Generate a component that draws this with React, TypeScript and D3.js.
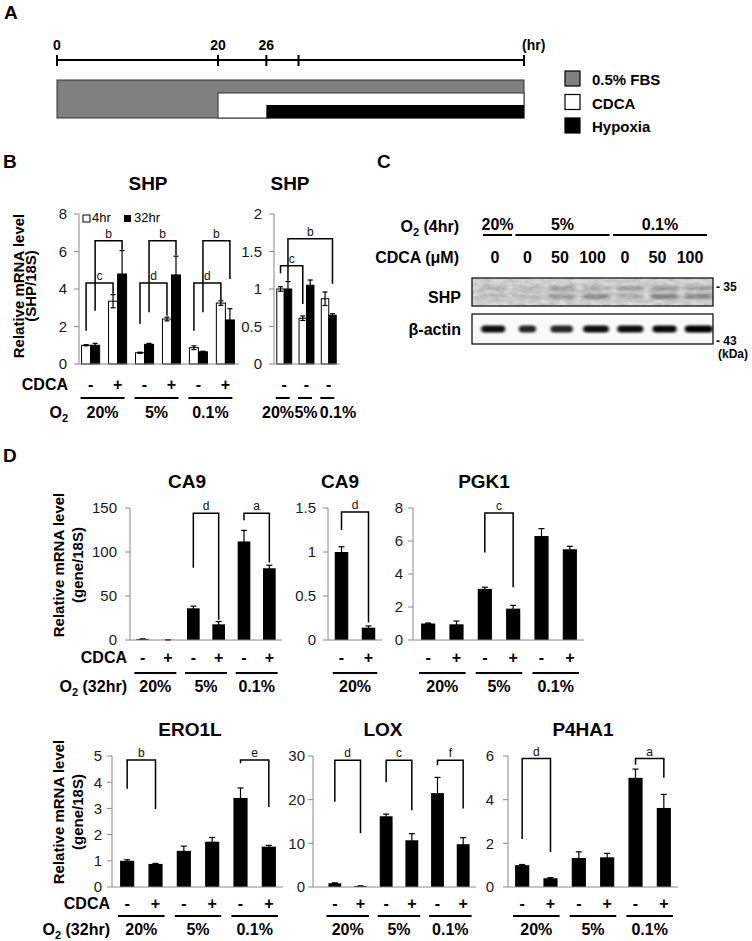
import React from 'react';
import * as d3 from 'd3';

const FONT = "Arial, 'Liberation Sans', Helvetica, sans-serif";
const AXIS = '#8a8a8a';

// ---------------- Panel A data ----------------
const timeTickHours = [0, 20, 26, 30, 58];
const timeLabelHours = [0, 20, 26];
const cdcaStartHr = 20;
const hypoxiaStartHr = 26;
const endHr = 58;
const legendLabels = ['0.5% FBS', 'CDCA', 'Hypoxia'];
const legendFills = ['#808080', '#ffffff', '#000000'];

// ---------------- Panel B data ----------------
const o2Levels = ['20%', '5%', '0.1%'];
const cdcaSigns = ['-', '+', '-', '+', '-', '+'];
const timeSeries = ['4hr', '32hr'];
const shp4hr = [1.0, 3.35, 0.6, 2.4, 0.87, 3.25];
const shp4hrErr = [0.03, 0.35, 0.03, 0.1, 0.1, 0.12];
const shp32hr = [1.0, 4.8, 1.05, 4.75, 0.65, 2.35];
const shp32hrErr = [0.1, 1.25, 0.05, 1.0, 0.03, 0.6];
const shpTicks = [0, 2, 4, 6, 8];
const shpBrackets = [
  { label: 'c', a: [0, 0], b: [1, 0], top: 4.32, aEnd: 1.78, bEnd: 3.75 },
  { label: 'b', a: [0, 1], b: [1, 1], top: 6.58, aEnd: 2.84, bEnd: 6.1 },
  { label: 'd', a: [2, 0], b: [3, 0], top: 4.32, aEnd: 2.13, bEnd: 2.58 },
  { label: 'b', a: [2, 1], b: [3, 1], top: 6.58, aEnd: 2.76, bEnd: 5.8 },
  { label: 'd', a: [4, 0], b: [5, 0], top: 4.32, aEnd: 1.78, bEnd: 3.4 },
  { label: 'b', a: [4, 1], b: [5, 1], top: 6.58, aEnd: 2.76, bEnd: 4.53 },
];
const shpCtrlSigns = ['-', '-', '-'];
const shpCtrl4hr = [1.0, 0.61, 0.87];
const shpCtrl4hrErr = [0.03, 0.03, 0.09];
const shpCtrl32hr = [1.0, 1.05, 0.65];
const shpCtrl32hrErr = [0.1, 0.07, 0.02];
const shpCtrlTicks = [0, 0.5, 1, 1.5, 2];
const shpCtrlBrackets = [
  { label: 'c', a: [0, 0], b: [1, 0], top: 1.31, aEnd: 1.21, bEnd: 0.8 },
  { label: 'b', a: [0, 1], b: [2, 1], top: 1.67, aEnd: 1.11, bEnd: 1.07 },
];

// ---------------- Panel C data ----------------
const blotO2Labels = ['20%', '5%', '0.1%'];
const blotO2First = [0, 1, 4];
const blotO2Last = [0, 3, 6];
const blotCdca = ['0', '0', '50', '100', '0', '50', '100'];
const shpUpperBand = [0.12, 0.1, 0.22, 0.16, 0.22, 0.26, 0.22];
const shpLowerBand = [0.1, 0.12, 0.26, 0.32, 0.16, 0.38, 0.34];
const actinBand = [0.95, 0.85, 0.85, 0.95, 0.95, 0.97, 1.0];
const actinBandWidth = [0.7, 0.5, 0.65, 0.75, 0.76, 0.7, 0.82];

// ---------------- Panel D data ----------------
const ca9 = [1.0, 0.14, 36, 17.8, 112, 81.5];
const ca9Err = [0.06, 0.02, 2.5, 3.2, 12.5, 3.5];
const ca9Ticks = [0, 50, 100, 150];
const ca9Brackets = [
  { label: 'd', a: 2, b: 3, top: 144, aEnd: 82, bEnd: 23 },
  { label: 'a', a: 4, b: 5, top: 144, aEnd: 136, bEnd: 88 },
];
const ca9Low = [1.0, 0.14];
const ca9LowErr = [0.06, 0.02];
const ca9LowTicks = [0, 0.5, 1, 1.5];
const ca9LowBrackets = [{ label: 'd', a: 0, b: 1, top: 1.455, aEnd: 1.25, bEnd: 0.2 }];
const pgk1 = [1.0, 0.95, 3.1, 1.9, 6.3, 5.5];
const pgk1Err = [0.03, 0.2, 0.1, 0.2, 0.45, 0.18];
const pgk1Ticks = [0, 2, 4, 6, 8];
const pgk1Brackets = [{ label: 'c', a: 2, b: 3, top: 7.7, aEnd: 5.3, bEnd: 3.2 }];
const ero1l = [1.0, 0.88, 1.38, 1.73, 3.4, 1.54];
const ero1lErr = [0.04, 0.02, 0.18, 0.16, 0.38, 0.05];
const ero1lTicks = [0, 1, 2, 3, 4, 5];
const ero1lBrackets = [
  { label: 'b', a: 0, b: 1, top: 4.85, aEnd: 3.75, bEnd: 2.98 },
  { label: 'e', a: 4, b: 5, top: 4.85, aEnd: 4.72, bEnd: 3.05 },
];
const lox = [0.85, 0.2, 16.2, 10.7, 21.5, 9.8];
const loxErr = [0.1, 0.05, 0.5, 1.5, 3.6, 1.5];
const loxTicks = [0, 10, 20, 30];
const loxBrackets = [
  { label: 'd', a: 0, b: 1, top: 29, aEnd: 19.5, bEnd: 12.3 },
  { label: 'c', a: 2, b: 3, top: 29, aEnd: 24, bEnd: 17.6 },
  { label: 'f', a: 4, b: 5, top: 29, aEnd: 27.9, bEnd: 18 },
];
const p4ha1 = [1.0, 0.4, 1.33, 1.36, 5.0, 3.62];
const p4ha1Err = [0.03, 0.03, 0.28, 0.18, 0.4, 0.62];
const p4ha1Ticks = [0, 2, 4, 6];
const p4ha1Brackets = [
  { label: 'd', a: 0, b: 1, top: 5.88, aEnd: 2.2, bEnd: 1.6 },
  { label: 'a', a: 4, b: 5, top: 5.88, aEnd: 5.6, bEnd: 5.0 },
];

// ---------------- helpers ----------------
function YAxis({ x, y, ticks, gap = 10 }: any) {
  const max = ticks[ticks.length - 1];
  return (
    <g>
      <line x1={x} x2={x} y1={y(max)} y2={y(0)} stroke={AXIS} strokeWidth={1} />
      {ticks.map((t: number) => (
        <g key={t}>
          <line x1={x - 5} x2={x} y1={y(t)} y2={y(t)} stroke={AXIS} strokeWidth={1} />
          <text x={x - gap} y={y(t)} dy="0.36em" textAnchor="end" fontSize={15} fill="#1a1a1a">
            {String(t)}
          </text>
        </g>
      ))}
    </g>
  );
}

function ErrBar({ cx, y, v, e, cap = 3 }: any) {
  const yt = y(v + e);
  const yb = y(Math.max(0, v - e));
  return (
    <g stroke="#000" strokeWidth={1.2}>
      <line x1={cx} x2={cx} y1={yt} y2={yb} />
      <line x1={cx - cap} x2={cx + cap} y1={yt} y2={yt} />
      <line x1={cx - cap} x2={cx + cap} y1={yb} y2={yb} />
    </g>
  );
}

function Bracket({ x1, x2, yTop, y1, y2, label }: any) {
  return (
    <g>
      <path d={`M${x1},${y1}V${yTop}H${x2}V${y2}`} fill="none" stroke="#000" strokeWidth={1.5} />
      <text x={(x1 + x2) / 2} y={yTop - 3} textAnchor="middle" fontSize={12} fill="#111">
        {label}
      </text>
    </g>
  );
}

function O2Label({ x, y, suffix, anchor = 'end' }: any) {
  return (
    <text x={x} y={y} textAnchor={anchor} fontSize={16} fontWeight="bold">
      O<tspan fontSize={11} dy={4}>2</tspan>
      <tspan dy={-4}>{suffix}</tspan>
    </text>
  );
}

function YTitle({ x1, x2, cy, sub }: any) {
  return (
    <g fontWeight="bold" fontSize={15}>
      <text transform={`translate(${x1},${cy}) rotate(-90)`} textAnchor="middle">Relative mRNA level</text>
      <text transform={`translate(${x2},${cy}) rotate(-90)`} textAnchor="middle">{sub}</text>
    </g>
  );
}

// ---------------- Panel A ----------------
function PanelA() {
  const x = d3.scaleLinear().domain([0, endHr]).range([57, 524]);
  const barTop = 80, barBot = 118;
  return (
    <g>
      <text x={4} y={19} fontSize={19} fontWeight="bold">A</text>
      {timeLabelHours.map((h) => (
        <text key={h} x={x(h)} y={50} textAnchor="middle" fontSize={14} fontWeight="bold">{h}</text>
      ))}
      <text x={x(endHr) - 2} y={50} fontSize={14} fontWeight="bold">(hr)</text>
      <line x1={x(0)} x2={x(endHr)} y1={60} y2={60} stroke="#000" strokeWidth={2} />
      {timeTickHours.map((h) => (
        <line key={h} x1={x(h)} x2={x(h)} y1={55} y2={66} stroke="#000" strokeWidth={2} />
      ))}
      <rect x={x(0)} y={barTop} width={x(endHr) - x(0)} height={barBot - barTop} fill={legendFills[0]} stroke="#333" strokeWidth={1} />
      <rect x={x(cdcaStartHr)} y={93} width={x(endHr) - x(cdcaStartHr)} height={barBot - 93} fill={legendFills[1]} stroke="#333" strokeWidth={1} />
      <rect x={x(hypoxiaStartHr)} y={105} width={x(endHr) - x(hypoxiaStartHr)} height={barBot - 105} fill={legendFills[2]} />
      {legendLabels.map((l, i) => (
        <g key={l}>
          <rect x={565} y={71 + i * 23.5} width={15} height={15} fill={legendFills[i]} stroke="#000" strokeWidth={1.2} />
          <text x={592} y={85 + i * 23.5} fontSize={15} fontWeight="bold">{l}</text>
        </g>
      ))}
    </g>
  );
}

// ---------------- Panel B ----------------
function GroupedShp({ axisX, axisEnd, bandRange, yMax, ticks, s1, e1, s2, e2, brackets, signs, groups, title, titleX, groupCenters }: any) {
  const n = s1.length;
  const x = d3.scaleBand<number>().domain(d3.range(n)).range(bandRange).paddingInner(0.33).paddingOuter(0.17);
  const y = d3.scaleLinear().domain([0, yMax]).range([364, 214]);
  const bw = x.bandwidth() / 2;
  const cx = (i: number, s: number) => (x(i) as number) + bw * s + bw / 2;
  const series = [
    { v: s1, e: e1, fill: '#fff' },
    { v: s2, e: e2, fill: '#000' },
  ];
  return (
    <g>
      <text x={titleX} y={190} textAnchor="middle" fontSize={19} fontWeight="bold">{title}</text>
      <YAxis x={axisX} y={y} ticks={ticks} gap={12} />
      {series.map((s, si) =>
        s.v.map((v: number, i: number) => (
          <rect key={`${si}-${i}`} x={(x(i) as number) + bw * si} y={y(v)} width={bw} height={y(0) - y(v)} fill={s.fill} stroke="#000" strokeWidth={1} />
        ))
      )}
      {series.map((s, si) =>
        s.v.map((v: number, i: number) => <ErrBar key={`e${si}-${i}`} cx={cx(i, si)} y={y} v={v} e={s.e[i]} cap={2.5} />)
      )}
      <line x1={axisX} x2={axisEnd} y1={y(0)} y2={y(0)} stroke={AXIS} strokeWidth={1} />
      {brackets.map((b: any, k: number) => (
        <Bracket key={k} x1={cx(b.a[0], b.a[1])} x2={cx(b.b[0], b.b[1])} yTop={y(b.top)} y1={y(b.aEnd)} y2={y(b.bEnd)} label={b.label} />
      ))}
      {signs.map((s: string, i: number) => (
        <text key={i} x={(x(i) as number) + x.bandwidth() / 2} y={390} textAnchor="middle" fontSize={16} fontWeight="bold">{s}</text>
      ))}
      {groups.map((g: string, gi: number) => {
        const per = n / groups.length;
        const x1 = (x(gi * per) as number) - 1;
        const x2 = (x(gi * per + per - 1) as number) + x.bandwidth() - 2;
        return (
          <g key={g}>
            <line x1={x1} x2={x2} y1={398} y2={398} stroke="#000" strokeWidth={2} />
            <text x={groupCenters ? groupCenters[gi] : (x1 + x2) / 2} y={418} textAnchor="middle" fontSize={16} fontWeight="bold">{g}</text>
          </g>
        );
      })}
    </g>
  );
}

function PanelB() {
  return (
    <g>
      <text x={3} y={168} fontSize={19} fontWeight="bold">B</text>
      <YTitle x1={24} x2={36} cy={286} sub="(SHP/18S)" />
      <GroupedShp axisX={79} axisEnd={239} bandRange={[77, 239]} yMax={8} ticks={shpTicks}
        s1={shp4hr} e1={shp4hrErr} s2={shp32hr} e2={shp32hrErr} brackets={shpBrackets}
        signs={cdcaSigns} groups={o2Levels} title="SHP" titleX={148} />
      <rect x={83} y={215} width={7} height={7} fill="#fff" stroke="#000" strokeWidth={1} />
      <text x={92} y={222} fontSize={13}>{timeSeries[0]}</text>
      <rect x={124} y={215} width={7} height={7} fill="#000" />
      <text x={134} y={222} fontSize={13}>{timeSeries[1]}</text>
      <text x={68} y={390} textAnchor="end" fontSize={16} fontWeight="bold">CDCA</text>
      <O2Label x={68} y={418} suffix="" />
      <GroupedShp axisX={274} axisEnd={340} bandRange={[273, 340]} yMax={2} ticks={shpCtrlTicks}
        s1={shpCtrl4hr} e1={shpCtrl4hrErr} s2={shpCtrl32hr} e2={shpCtrl32hrErr} brackets={shpCtrlBrackets}
        signs={shpCtrlSigns} groups={o2Levels} title="SHP" titleX={290} groupCenters={[278, 306, 338]} />
    </g>
  );
}

// ---------------- Panel C ----------------
function PanelC() {
  const lab = d3.scalePoint<number>().domain(d3.range(7)).range([495, 690]);
  const lane = d3.scaleBand<number>().domain(d3.range(7)).range([476, 716]);
  const lw = lane.bandwidth();
  const lc = (i: number) => (lane(i) as number) + lw / 2;
  const boxX = 472, boxW = 241;
  return (
    <g>
      <defs>
        <filter id="bandBlur" x="-30%" y="-200%" width="160%" height="500%">
          <feGaussianBlur stdDeviation="1.8 1.1" />
        </filter>
        <filter id="softBlur" x="-30%" y="-200%" width="160%" height="500%">
          <feGaussianBlur stdDeviation="2.6 1.5" />
        </filter>
        <filter id="bgNoise" x="0" y="0" width="100%" height="100%">
          <feTurbulence type="fractalNoise" baseFrequency="0.12 0.3" numOctaves="3" seed="7" />
          <feColorMatrix type="matrix" values="0 0 0 0 0  0 0 0 0 0  0 0 0 0 0  0 0 0 0.22 0" />
        </filter>
        <clipPath id="shpClip"><rect x={boxX} y={278} width={boxW} height={28} /></clipPath>
        <clipPath id="actClip"><rect x={boxX} y={314} width={boxW} height={30} /></clipPath>
      </defs>
      <text x={377} y={168} fontSize={19} fontWeight="bold">C</text>
      <O2Label x={459} y={232} suffix=" (4hr)" />
      {blotO2Labels.map((l, i) => {
        const x1 = lab(blotO2First[i])! - 12;
        const x2 = lab(blotO2Last[i])! + 17;
        return (
          <g key={l}>
            <text x={(x1 + x2) / 2} y={230} textAnchor="middle" fontSize={16} fontWeight="bold">{l}</text>
            <line x1={x1} x2={x2} y1={235} y2={235} stroke="#000" strokeWidth={2} />
          </g>
        );
      })}
      <text x={459} y={263} textAnchor="end" fontSize={16} fontWeight="bold">CDCA (μM)</text>
      {blotCdca.map((c, i) => (
        <text key={i} x={lab(i)} y={263} textAnchor="middle" fontSize={16} fontWeight="bold">{c}</text>
      ))}
      {/* SHP blot */}
      <rect x={boxX} y={278} width={boxW} height={28} fill="#e8e8e8" />
      <g clipPath="url(#shpClip)">
        <rect x={boxX} y={278} width={boxW} height={28} filter="url(#bgNoise)" />
        {shpUpperBand.map((v, i) => (
          <rect key={`u${i}`} x={lc(i) - lw * 0.4} y={286} width={lw * 0.8} height={5} rx={2.5} fill="#000" opacity={v} filter="url(#softBlur)" />
        ))}
        {shpLowerBand.map((v, i) => (
          <rect key={`l${i}`} x={lc(i) - lw * 0.4} y={294} width={lw * 0.8} height={5} rx={2.5} fill="#000" opacity={v} filter="url(#softBlur)" />
        ))}
      </g>
      <rect x={boxX} y={278} width={boxW} height={28} fill="none" stroke="#000" strokeWidth={1.2} />
      {/* actin blot */}
      <rect x={boxX} y={314} width={boxW} height={30} fill="#f9f9f9" />
      <g clipPath="url(#actClip)">
        {actinBand.map((v, i) => (
          <rect key={i} x={lc(i) - (lw * actinBandWidth[i]) / 2} y={325.5} width={lw * actinBandWidth[i]} height={7} rx={3.5} fill="#000" opacity={v} filter="url(#bandBlur)" />
        ))}
      </g>
      <rect x={boxX} y={314} width={boxW} height={30} fill="none" stroke="#000" strokeWidth={1.2} />
      <text x={461} y={303} textAnchor="end" fontSize={16} fontWeight="bold">SHP</text>
      <text x={461} y={335} textAnchor="end" fontSize={16} fontWeight="bold">β-actin</text>
      <text x={716} y={291} fontSize={12} fontWeight="bold">- 35</text>
      <text x={716} y={345} fontSize={12} fontWeight="bold">- 43</text>
      <text x={718} y={358} fontSize={12} fontWeight="bold">(kDa)</text>
    </g>
  );
}

// ---------------- Panel D ----------------
function BarChart({ values, errs, ticks, brackets, bandRange, axisX, axisEnd, yBase, yTop, title, titleX, groups, signY, lineY, groupY, gap = 10 }: any) {
  const n = values.length;
  const x = d3.scaleBand<number>().domain(d3.range(n)).range(bandRange).paddingInner(0.5).paddingOuter(0.25);
  const y = d3.scaleLinear().domain([0, ticks[ticks.length - 1]]).range([yBase, yTop]);
  const bw = x.bandwidth();
  const cx = (i: number) => (x(i) as number) + bw / 2;
  return (
    <g>
      <text x={titleX} y={yTop - 20} textAnchor="middle" fontSize={19} fontWeight="bold">{title}</text>
      <YAxis x={axisX} y={y} ticks={ticks} gap={gap} />
      {values.map((v: number, i: number) => (
        <rect key={i} x={x(i)} y={y(v)} width={bw} height={y(0) - y(v)} fill="#000" />
      ))}
      {values.map((v: number, i: number) => (
        <ErrBar key={`e${i}`} cx={cx(i)} y={y} v={v} e={errs[i]} cap={3} />
      ))}
      <line x1={axisX} x2={axisEnd} y1={y(0)} y2={y(0)} stroke={AXIS} strokeWidth={1} />
      {brackets.map((b: any, k: number) => (
        <Bracket key={k} x1={cx(b.a)} x2={cx(b.b)} yTop={y(b.top)} y1={y(b.aEnd)} y2={y(b.bEnd)} label={b.label} />
      ))}
      {values.map((_: number, i: number) => (
        <text key={`s${i}`} x={cx(i)} y={signY} textAnchor="middle" fontSize={16} fontWeight="bold">{cdcaSigns[i]}</text>
      ))}
      {groups.map((g: string, gi: number) => {
        const x1 = (x(gi * 2) as number) - 2;
        const x2 = (x(gi * 2 + 1) as number) + bw + 2;
        return (
          <g key={g}>
            <line x1={x1} x2={x2} y1={lineY} y2={lineY} stroke="#000" strokeWidth={2} />
            <text x={(x1 + x2) / 2} y={groupY} textAnchor="middle" fontSize={16} fontWeight="bold">{g}</text>
          </g>
        );
      })}
    </g>
  );
}

function PanelD() {
  const top = { yBase: 640, yTop: 508, signY: 663, lineY: 673, groupY: 692 };
  const bot = { yBase: 887, yTop: 756, signY: 909, lineY: 916, groupY: 935 };
  return (
    <g>
      <text x={3} y={462} fontSize={19} fontWeight="bold">D</text>
      <YTitle x1={64} x2={83} cy={565} sub="(gene/18S)" />
      <text x={127} y={top.signY} textAnchor="end" fontSize={16} fontWeight="bold">CDCA</text>
      <O2Label x={127} y={top.groupY} suffix=" (32hr)" />
      <BarChart {...top} values={ca9} errs={ca9Err} ticks={ca9Ticks} brackets={ca9Brackets}
        bandRange={[130, 282]} axisX={130} axisEnd={282} title="CA9" titleX={187} groups={o2Levels} gap={13} />
      <BarChart {...top} values={ca9Low} errs={ca9LowErr} ticks={ca9LowTicks} brackets={ca9LowBrackets}
        bandRange={[328, 382]} axisX={328} axisEnd={382} title="CA9" titleX={340} groups={[o2Levels[0]]} gap={12} />
      <BarChart {...top} values={pgk1} errs={pgk1Err} ticks={pgk1Ticks} brackets={pgk1Brackets}
        bandRange={[414, 584]} axisX={413} axisEnd={584} title="PGK1" titleX={484} groups={o2Levels} gap={10} />

      <YTitle x1={64} x2={83} cy={812} sub="(gene/18S)" />
      <text x={110} y={bot.signY} textAnchor="end" fontSize={16} fontWeight="bold">CDCA</text>
      <O2Label x={110} y={bot.groupY} suffix=" (32hr)" />
      <BarChart {...bot} values={ero1l} errs={ero1lErr} ticks={ero1lTicks} brackets={ero1lBrackets}
        bandRange={[113, 283]} axisX={112} axisEnd={283} title="ERO1L" titleX={190} groups={o2Levels} gap={10} />
      <BarChart {...bot} values={lox} errs={loxErr} ticks={loxTicks} brackets={loxBrackets}
        bandRange={[322, 476]} axisX={313} axisEnd={476} title="LOX" titleX={383} groups={o2Levels} gap={8} />
      <BarChart {...bot} values={p4ha1} errs={p4ha1Err} ticks={p4ha1Ticks} brackets={p4ha1Brackets}
        bandRange={[508, 678]} axisX={508} axisEnd={678} title="P4HA1" titleX={583} groups={o2Levels} gap={14} />
    </g>
  );
}

export default function App() {
  return (
    <svg width={752} height={941} viewBox="0 0 752 941" fontFamily={FONT}
      style={{ position: 'absolute', left: 0, top: 0, background: '#fff', display: 'block' }}>
      <rect width={752} height={941} fill="#fff" />
      <PanelA />
      <PanelB />
      <PanelC />
      <PanelD />
    </svg>
  );
}
